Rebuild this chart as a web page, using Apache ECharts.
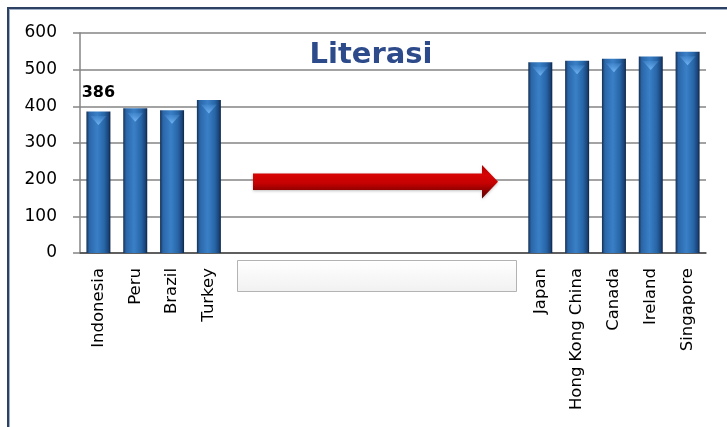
<!DOCTYPE html>
<html>
<head>
<meta charset="utf-8">
<title>Literasi</title>
<script src="https://cdn.jsdelivr.net/npm/echarts@6/dist/echarts.min.js"></script>
<style>
  html, body { margin: 0; padding: 0; background: #ffffff; }
  #chart { width: 727px; height: 427px; }
</style>
</head>
<body>
<div id="chart"></div>
<script>
// Reading scores: low-scoring group on the left, top group on the right
const leftCountries = ['Indonesia', 'Peru', 'Brazil', 'Turkey'];
const leftScores = [386, 395, 389, 417];
const rightCountries = ['Japan', 'Hong Kong China', 'Canada', 'Ireland', 'Singapore'];
const rightScores = [520, 524, 530, 536, 549];
const gapSlots = 8; // empty slots between the two groups
const yTicks = [0, 100, 200, 300, 400, 500, 600];
const labelledCountry = 'Indonesia';

const blanks = new Array(gapSlots).fill('');
const categories = leftCountries.concat(blanks, rightCountries);
const scores = leftScores.concat(new Array(gapSlots).fill(null), rightScores);

const FONT = 'DejaVu Sans';

const barFill = new echarts.graphic.LinearGradient(0, 0, 1, 0, [
  { offset: 0, color: '#172f52' },
  { offset: 0.12, color: '#2a66a8' },
  { offset: 0.45, color: '#3a80c7' },
  { offset: 0.75, color: '#2765a6' },
  { offset: 0.92, color: '#1a4378' },
  { offset: 1, color: '#0e2441' }
]);

const capFill = new echarts.graphic.LinearGradient(0, 0, 0, 1, [
  { offset: 0, color: 'rgba(120,185,245,0.95)' },
  { offset: 1, color: 'rgba(90,160,230,0.25)' }
]);

const barData = scores.map(function (v, i) {
  if (v === null) return null;
  const item = { value: v };
  if (categories[i] === labelledCountry) {
    item.label = {
      show: true,
      position: 'top',
      distance: 11,
      formatter: '{c}',
      fontFamily: FONT,
      fontSize: 16,
      fontWeight: 'bold',
      color: '#000000'
    };
  }
  return item;
});

const chart = echarts.init(document.getElementById('chart'), null, { renderer: 'canvas' });

chart.setOption({
  animation: false,
  backgroundColor: '#ffffff',
  title: {
    text: 'Literasi',
    left: 366,
    top: 36,
    textAlign: 'center',
    textStyle: {
      fontFamily: FONT,
      fontSize: 29,
      fontWeight: 'bold',
      color: '#2d4b8b'
    }
  },
  grid: { left: 80, right: 21, top: 33, bottom: 174, containLabel: false },
  xAxis: {
    type: 'category',
    data: categories,
    axisLine: { show: true, lineStyle: { color: '#4a4a4a', width: 1.5 } },
    axisTick: { show: false },
    axisLabel: {
      interval: 0,
      rotate: 90,
      margin: 15,
      fontFamily: FONT,
      fontSize: 16.5,
      color: '#000000'
    }
  },
  yAxis: {
    type: 'value',
    min: yTicks[0],
    max: yTicks[yTicks.length - 1],
    interval: yTicks[1] - yTicks[0],
    axisLine: { show: true, lineStyle: { color: '#858585', width: 1.5 } },
    axisTick: { show: true, length: 7, lineStyle: { color: '#858585', width: 1.5 } },
    splitLine: { show: true, lineStyle: { color: '#858585', width: 1.5 } },
    axisLabel: {
      margin: 23,
      fontFamily: FONT,
      fontSize: 17,
      color: '#000000'
    }
  },
  series: [
    {
      type: 'bar',
      data: barData,
      barWidth: 24,
      itemStyle: { color: barFill },
      z: 2
    },
    {
      // bevel highlight on each bar top
      type: 'pictorialBar',
      data: scores,
      symbol: 'triangle',
      symbolRotate: 180,
      symbolSize: [16, 9],
      symbolPosition: 'end',
      symbolOffset: [0, '50%'],
      itemStyle: { color: capFill },
      silent: true,
      z: 3
    }
  ],
  graphic: [
    // frame lines
    { type: 'rect', shape: { x: 7, y: 7, width: 727, height: 2 }, style: { fill: '#2d4262' }, z: 10 },
    { type: 'rect', shape: { x: 7, y: 7, width: 2, height: 427 }, style: { fill: '#2d4262' }, z: 10 },
    { type: 'rect', shape: { x: 9, y: 9, width: 727, height: 1 }, style: { fill: '#9fb0c8' }, z: 10 },
    { type: 'rect', shape: { x: 9, y: 9, width: 1, height: 427 }, style: { fill: '#9fb0c8' }, z: 10 },
    // empty text box under the gap
    {
      type: 'rect',
      shape: { x: 237.5, y: 260.5, width: 279, height: 31 },
      style: {
        fill: new echarts.graphic.LinearGradient(0, 0, 0, 1, [
          { offset: 0, color: '#ffffff' },
          { offset: 1, color: '#f1f1f1' }
        ]),
        stroke: '#b3b3b3',
        lineWidth: 1
      },
      z: 10
    },
    // red arrow across the gap
    {
      type: 'polygon',
      shape: {
        points: [
          [253, 173.5], [482, 173.5], [482, 165], [498, 181.7],
          [482, 198.5], [482, 190], [253, 190]
        ]
      },
      style: {
        fill: new echarts.graphic.LinearGradient(0, 0, 0, 1, [
          { offset: 0, color: '#a80000' },
          { offset: 0.3, color: '#d80404' },
          { offset: 0.55, color: '#c40202' },
          { offset: 0.8, color: '#860000' },
          { offset: 1, color: '#5c0000' }
        ]),
        shadowBlur: 3,
        shadowColor: 'rgba(0,0,0,0.25)',
        shadowOffsetY: 1
      },
      z: 10
    }
  ]
});
</script>
</body>
</html>
